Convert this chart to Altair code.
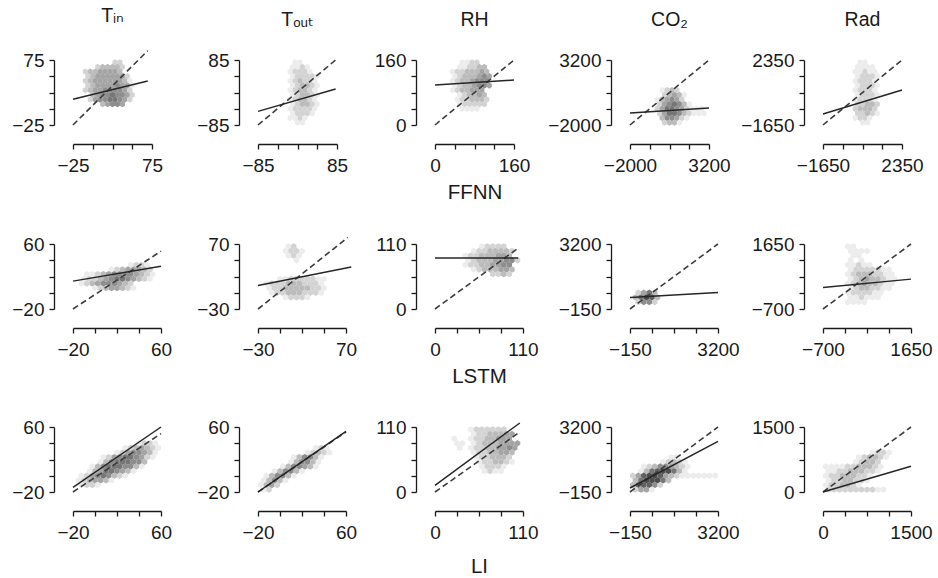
import altair as alt
import pandas as pd

COLUMN_TITLES = ["Tᵢₙ", "Tₒᵤₜ", "RH", "CO₂", "Rad"]
ROW_TITLES = ["FFNN", "LSTM", "LI"]

# axis ranges (lo, hi), identical for x (predicted) and y (observed)
RANGE_FFNN = [(-25, 75), (-85, 85), (0, 160), (-2000, 3200), (-1650, 2350)]
RANGE_LSTM = [(-20, 60), (-30, 70), (0, 110), (-150, 3200), (-700, 1650)]
RANGE_LI = [(-20, 60), (-20, 60), (0, 110), (-150, 3200), (0, 1500)]

# dashed reference line endpoints (x0, y0, x1, y1)
REF_FFNN = [(-25, -25, 69.6, 89.3), (-85, -85, 82, 85), (0, 0, 160, 160), (-2000, -2000, 3200, 3200), (-1650, -1650, 2350, 2350)]
REF_LSTM = [(-20, -20, 60, 51.2), (-30, -30, 72, 80), (0, 0, 104, 103), (-150, -150, 3200, 3200), (-700, -700, 1650, 1650)]
REF_LI = [(-20, -20, 60, 51.8), (-20, -20, 60, 54), (0, 0, 106, 101.5), (-150, -150, 3200, 3200), (0, 0, 1500, 1500)]

# solid fitted line endpoints (x0, y0, x1, y1)
FIT_FFNN = [(-25, 14.5, 69.6, 42.7), (-85, -49.3, 82, 9.1), (0, 98.4, 160, 110.7), (-2000, -1040, 3200, -640), (-1650, -973, 2350, 504)]
FIT_LSTM = [(-20, 14.3, 60, 32.5), (-30, 6, 76, 34.7), (0, 86.2, 104, 86.2), (-150, 444, 3200, 697), (-700, 73, 1650, 380)]
FIT_LI = [(-20, -14.2, 60, 60), (-20, -20, 60, 54.5), (0, 11.3, 106, 116.8), (-150, 56, 3200, 2463), (0, 0, 1500, 593)]

# hexbin density levels (row 0 = top, 16 bins across, 14 rows; '.' = empty)
GRID_FFNN_TIN = ["........22", "....233332", "..23344443", "..234444442", "..2344444431", "..2344445441",
                 "..2344555542", "...345565542", "...245566542", ".....34554", "", "", "", ""]
GRID_FFNN_TOUT = [".......11", "......1121", "......12221", "......122221", "......123221", "......123321",
                  "......123321", "......123321", "......123321", "......123321", "......122221", "......12221",
                  "......1121", ".......11"]
GRID_FFNN_RH = [".....1122", "....112233", "...12233343", "...12333454", "...12334555", "...12334554",
                "...1233444", "....123343", "....1223332", "....122222", ".....1111", "", "", ""]
GRID_FFNN_CO2 = ["", "", "", "", "", "", "......1232", "......23431", ".....134542", ".....2456531",
                 ".....2466542111", ".....2466532111", "......355421", "......2331"]
GRID_FFNN_RAD = [".......11", "......1111", "......11211", "......12221", "......12221", "......12221",
                 "......12221", "......12221", "......12221", "......22332", "......23332", "......22321",
                 "......1221", ".......11"]

GRID_LSTM_TIN = ["", "", "", "", "..........1221", "......12344432", "..1123455554321", ".1223456654321",
                 ".1234555432", "...12344321", "", "", "", ""]
GRID_LSTM_TOUT = [".....12", "....1221", ".....121", "......1", "", "", "", "...112222211", ".12223332221",
                  ".12233333221", "..1223332221", "....12221", "", ""]
GRID_LSTM_RH = ["........12222", "......12233332", ".....122333443", ".....1233344552", ".....122334455",
                "......12333443", "..........2232", "", "", "", "", "", "", ""]
GRID_LSTM_CO2 = ["", "", "", "", "", "", "", "", "", "", ".2463", "36873", ".2552", ""]
GRID_LSTM_RAD = ["....11", "....1111", ".....11", "....1.1", "....11211", "....12222211", "....123332211",
                 "....123433211", "....123433211", "....12332211", "....1222211", "....112111", "....1111", ""]

GRID_LI_TIN = ["", "", "", "...........1221", ".........1234321", ".......12455431", ".....1245665421",
               "....135666553", "...1356665531", "..134665431", ".124565321", "1234431", ".1221", ""]
GRID_LI_TOUT = ["", "", "", "", "..........121", "........12321", "......135531", ".....135531",
                "....1355431", "..135531", ".135531", "13531", "1342", "12"]
GRID_LI_RH = ["......1222222", "......12233344", "...1..12233444", "...11.123334444", "....1.122334454",
              "......12233443", ".......1223332", ".......1223321", "........12221", "........1211",
              "", "", "", ""]
GRID_LI_CO2 = ["", "", "", "", "", "", ".......11", ".....12321", "..123554321", ".136788631",
               "2478874321111111", "3688863", "367752", "2441"]
GRID_LI_RAD = ["", "", "", "", "", "........1221", "......123321", ".....12332", "11112233321",
               "1122333221", "122333221", "12233221", "1223321", "22222222211"]

RANGES = [RANGE_FFNN, RANGE_LSTM, RANGE_LI]
REFS = [REF_FFNN, REF_LSTM, REF_LI]
FITS = [FIT_FFNN, FIT_LSTM, FIT_LI]
GRIDS = [
    [GRID_FFNN_TIN, GRID_FFNN_TOUT, GRID_FFNN_RH, GRID_FFNN_CO2, GRID_FFNN_RAD],
    [GRID_LSTM_TIN, GRID_LSTM_TOUT, GRID_LSTM_RH, GRID_LSTM_CO2, GRID_LSTM_RAD],
    [GRID_LI_TIN, GRID_LI_TOUT, GRID_LI_RH, GRID_LI_CO2, GRID_LI_RAD],
]

# styling
FONT = "Liberation Sans, Arial, DejaVu Sans, sans-serif"
INK = "#1a1a1a"
PANEL_W = [79, 88, 88]
PANEL_H = 65
HEX_SHAPE = [
    "M0,-1L0.8,-0.5L0.8,0.5L0,1L-0.8,0.5L-0.8,-0.5Z",
    "M0,-1L0.87,-0.5L0.87,0.5L0,1L-0.87,0.5L-0.87,-0.5Z",
    "M0,-1L0.87,-0.5L0.87,0.5L0,1L-0.87,0.5L-0.87,-0.5Z",
]
Y_MIN_EXTENT = [49, 67, 59, 72, 63]
ROW_TITLE_PAD = [10, 10, 17]
NBX, NBY = 16, 14


def make_panel(r, c):
    lo, hi = RANGES[r][c]
    grid = GRIDS[r][c]
    recs = []
    for j, row in enumerate(grid):
        for i, ch in enumerate(row):
            if ch.isdigit():
                recs.append({
                    "x": lo + (i + 0.5 + 0.5 * (j % 2)) * (hi - lo) / NBX,
                    "y": hi - (j + 0.5) * (hi - lo) / NBY,
                    "level": int(ch),
                })
    hexdf = pd.DataFrame(recs)
    x0, y0, x1, y1 = REFS[r][c]
    refdf = pd.DataFrame({"x": [x0, x1], "y": [y0, y1]})
    x0, y0, x1, y1 = FITS[r][c]
    fitdf = pd.DataFrame({"x": [x0, x1], "y": [y0, y1]})

    step = (hi - lo) / 4
    ticks = [lo, lo + step, lo + 2 * step, lo + 3 * step, hi]
    lab = f"datum.value == {lo} || datum.value == {hi} ? datum.label : ''"
    scale = alt.Scale(domain=[lo, hi], nice=False, zero=False)
    xaxis = alt.Axis(values=ticks, labelExpr=lab, format="d", offset=19, tickSize=5,
                     labelPadding=7, labelFlush=False, labelOverlap=False, grid=False,
                     minExtent=28, maxExtent=28, titlePadding=ROW_TITLE_PAD[r],
                     title=ROW_TITLES[r] if c == 2 else None)
    yaxis = alt.Axis(values=ticks, labelExpr=lab, format="d", offset=19, tickSize=5,
                     labelPadding=5, labelOverlap=False, grid=False,
                     minExtent=Y_MIN_EXTENT[c], title=None)
    X = alt.X("x:Q", scale=scale, axis=xaxis)
    Y = alt.Y("y:Q", scale=scale, axis=yaxis)

    hexes = alt.Chart(hexdf).mark_point(
        shape=HEX_SHAPE[r], filled=True, size=40, opacity=1, strokeWidth=0
    ).encode(
        x=X, y=Y,
        color=alt.Color("level:Q", scale=alt.Scale(domain=[1, 9], range=["#ececec", "#383838"]), legend=None),
    )
    ref = alt.Chart(refdf).mark_line(color="#3c3c3c", strokeWidth=1.6, strokeDash=[6, 3.5]).encode(x=X, y=Y)
    fit = alt.Chart(fitdf).mark_line(color="#262626", strokeWidth=1.5).encode(x=X, y=Y)

    layer = alt.layer(hexes, ref, fit).properties(width=PANEL_W[r], height=PANEL_H)
    if r == 0:
        layer = layer.properties(title=alt.TitleParams(
            COLUMN_TITLES[c], frame="group", offset=6, baseline="alphabetic", anchor="middle",
            fontSize=19.5, font=FONT, fontWeight="normal", color=INK))
    return layer


panels = [make_panel(r, c) for r in range(3) for c in range(5)]

chart = alt.concat(
    *panels, columns=5, spacing={"row": 31, "column": 0}, align="each", bounds="full"
).properties(
    padding={"left": 5, "top": 6, "right": 2, "bottom": 2}
).configure_view(
    strokeWidth=0
).configure_axis(
    labelFont=FONT, labelFontSize=19, labelColor=INK,
    titleFont=FONT, titleFontSize=20.5, titleFontWeight="normal", titleColor=INK,
    domainColor=INK, tickColor=INK, domainWidth=1.3, tickWidth=1.3,
)

chart.save("out.html", embed_options={"renderer": "svg", "actions": False})
